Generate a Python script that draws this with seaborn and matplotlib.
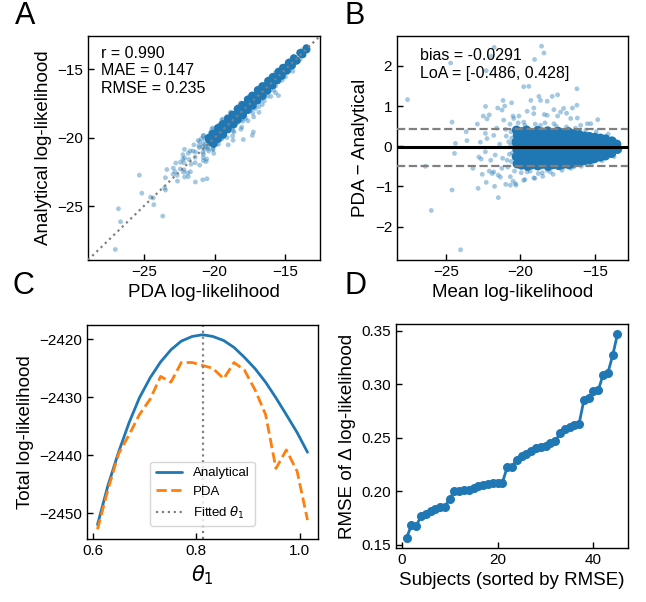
import matplotlib
matplotlib.use("Agg")
import matplotlib.pyplot as plt
import seaborn as sns
import numpy as np

# ---------------- data ----------------
# Bland-Altman coordinates (mean log-likelihood, PDA - Analytical); sparse points
sparse_mean = [-27.60, -26.40, -26.00, -24.60, -24.60, -24.03, -24.44, -24.37, -24.70, -23.65,
               -23.60, -22.85, -22.80, -22.64, -22.57, -22.50, -22.30, -22.30, -22.35, -22.36,
               -22.25, -22.10, -22.10, -21.96, -21.80, -21.77, -21.74, -21.53, -21.50, -21.49,
               -21.35, -21.17, -21.06, -20.99, -20.68, -20.60, -20.50, -20.50, -20.30, -20.10,
               -19.78, -19.70, -19.55, -19.44, -19.30, -19.10, -19.05, -19.03, -18.76, -18.65,
               -18.58, -18.50, -18.42, -18.40, -18.20, -17.86, -17.80, -17.75, -17.50, -17.50,
               -17.10, -16.90, -16.50, -16.20, -16.20, -16.17, -15.50, -14.80,
               -21.24, -21.13, -20.45, -21.80, -22.25, -22.00, -22.36, -21.70, -21.25, -21.90,
               -20.68, -19.78, -19.10, -18.53, -20.34, -19.55, -18.20, -17.30, -16.40, -15.49,
               -14.82, -15.95, -15.27, -16.62, -17.30, -18.20, -19.10, -19.78, -18.65, -17.75,
               -20.22, -20.79, -20.90, -20.00, -23.20, -22.90,
               -20.62, -20.55, -20.66, -20.58, -20.63,
               -21.00, -20.85, -20.70, -20.40, -20.15, -19.95, -19.70, -19.35, -19.00, -18.80,
               -18.35, -18.00, -17.60, -17.20, -16.90, -16.60, -16.30, -15.90, -15.60, -15.20,
               -14.90, -14.50, -14.10, -13.70, -21.40, -21.20, -21.60, -20.95, -20.75, -22.70]
sparse_diff = [1.16, -0.50, -1.60, 0.60, -1.09, -2.58, -0.18, 0.07, 2.07, 0.36,
               0.14, -1.05, -0.27, -0.32, -0.70, 0.75, 1.88, -0.90, 0.99, 0.32,
               0.68, 0.78, -0.62, 2.24, -0.64, 2.46, -1.00, 0.95, -0.72, -1.28,
               -0.77, 1.14, 1.00, -0.95, -0.97, 1.08, -0.87, 0.75, -0.97, 0.75,
               1.48, -0.83, 0.87, 1.49, 1.14, 0.95, 2.16, -0.80, 1.24, 1.14,
               2.49, -0.75, 2.32, 0.79, 1.12, 1.24, -0.70, 0.91, 1.28, 0.75,
               0.94, 0.82, 0.95, 1.43, 1.02, 0.70, 0.56, 0.66,
               0.90, 0.65, 0.69, 0.27, 0.19, -0.35, -0.14, -0.22, -0.55, -0.68,
               -0.76, -0.85, -0.79, -0.66, -0.93, -0.64, -0.60, -0.55, -0.51, -0.46,
               -0.31, 0.52, 0.56, 0.69, 0.85, 0.77, 0.81, 0.60, 0.52, 0.56,
               0.44, 0.11, -0.35, -0.47, -0.55, 0.55,
               -0.38, -0.17, 0.02, 0.20, 0.36,
               0.42, -0.52, 0.55, -0.62, 0.58, -0.66, 0.52, -0.62, 0.55, -0.68,
               0.58, -0.64, 0.50, -0.60, 0.48, -0.55, 0.45, -0.50, 0.40, -0.42,
               0.36, -0.36, 0.30, -0.26, 0.05, -0.30, 0.45, 0.25, -0.20, 0.10]

# dense core of the cloud
core_mean = [-20.22, -20.28, -20.24, -20.30, -20.21, -20.27,
             -19.93, -19.87, -19.91, -19.85, -19.94, -19.88, -19.92,
             -19.52, -19.58, -19.54, -19.57, -19.51, -19.56, -19.53, -19.59,
             -19.22, -19.17, -19.24, -19.19, -19.21, -19.16, -19.23,
             -18.83, -18.88, -18.84, -18.87, -18.82, -18.86, -18.89, -18.84,
             -18.52, -18.47, -18.51, -18.48, -18.53, -18.49, -18.52,
             -18.13, -18.17, -18.14, -18.18, -18.12, -18.16, -18.13, -18.17,
             -17.82, -17.78, -17.81, -17.77, -17.83, -17.79, -17.82,
             -17.43, -17.47, -17.44, -17.48, -17.42, -17.46, -17.44, -17.47,
             -17.12, -17.08, -17.11, -17.07, -17.13, -17.09, -17.12,
             -16.73, -16.77, -16.74, -16.78, -16.72, -16.76, -16.74, -16.77,
             -16.42, -16.38, -16.41, -16.37, -16.43, -16.39, -16.42,
             -16.03, -16.07, -16.04, -16.08, -16.02, -16.06, -16.04,
             -15.72, -15.68, -15.71, -15.67, -15.73, -15.69,
             -15.33, -15.37, -15.34, -15.38, -15.32, -15.36,
             -15.02, -14.98, -15.01, -14.97, -15.03, -14.99,
             -14.63, -14.67, -14.64, -14.68, -14.62,
             -14.28, -14.32, -14.29, -14.33, -14.27,
             -13.87, -13.83, -13.86, -13.84,
             -13.47, -13.52]
core_diff = [-0.44, -0.26, -0.08, 0.10, 0.27, 0.40,
             -0.47, -0.33, -0.19, -0.05, 0.09, 0.23, 0.36,
             -0.50, -0.37, -0.24, -0.11, 0.03, 0.16, 0.29, 0.40,
             -0.46, -0.32, -0.18, -0.05, 0.08, 0.21, 0.34,
             -0.49, -0.36, -0.23, -0.10, 0.03, 0.16, 0.28, 0.39,
             -0.45, -0.31, -0.17, -0.04, 0.09, 0.22, 0.35,
             -0.50, -0.37, -0.24, -0.11, 0.02, 0.15, 0.27, 0.38,
             -0.46, -0.32, -0.18, -0.05, 0.08, 0.21, 0.33,
             -0.48, -0.35, -0.22, -0.09, 0.04, 0.16, 0.27, 0.37,
             -0.45, -0.31, -0.17, -0.04, 0.09, 0.21, 0.33,
             -0.46, -0.33, -0.21, -0.09, 0.03, 0.15, 0.26, 0.36,
             -0.42, -0.29, -0.16, -0.04, 0.08, 0.20, 0.31,
             -0.40, -0.28, -0.16, -0.05, 0.07, 0.18, 0.29,
             -0.36, -0.23, -0.11, 0.01, 0.13, 0.25,
             -0.34, -0.22, -0.10, 0.02, 0.13, 0.24,
             -0.31, -0.20, -0.09, 0.02, 0.12, 0.22,
             -0.27, -0.14, -0.02, 0.10, 0.20,
             -0.24, -0.12, -0.01, 0.09, 0.18,
             -0.18, -0.07, 0.04, 0.13,
             -0.08, 0.05]

stats_A = "r = 0.990\nMAE = 0.147\nRMSE = 0.235"
bias = -0.0291
loa_low, loa_high = -0.486, 0.428
stats_B = "bias = -0.0291\nLoA = [-0.486, 0.428]"

# panel C
theta = [0.609, 0.629, 0.650, 0.670, 0.690, 0.711, 0.731, 0.751, 0.771, 0.792, 0.812,
         0.832, 0.853, 0.873, 0.893, 0.914, 0.934, 0.954, 0.974, 0.995, 1.015]
ll_analytical = [-2452.0, -2445.3, -2439.4, -2434.4, -2430.1, -2426.6, -2423.9, -2421.8,
                 -2420.3, -2419.5, -2419.2, -2419.5, -2420.2, -2421.4, -2423.1, -2425.1,
                 -2427.4, -2430.1, -2433.0, -2436.1, -2439.5]
ll_pda = [-2452.8, -2446.0, -2439.7, -2436.5, -2433.0, -2430.3, -2426.4, -2427.4,
          -2424.0, -2424.0, -2424.5, -2425.0, -2426.8, -2424.0, -2425.3, -2428.8,
          -2433.0, -2442.3, -2439.1, -2442.8, -2451.2]
theta_fit = 0.812

# panel D
subjects = list(range(1, 46))
rmse = [0.1565, 0.1680, 0.1674, 0.1767, 0.1789, 0.1814, 0.1836, 0.1851, 0.1855, 0.1932,
        0.2001, 0.2003, 0.2007, 0.2016, 0.2032, 0.2047, 0.2057, 0.2072, 0.2079, 0.2080,
        0.2081, 0.2225, 0.2228, 0.2296, 0.2327, 0.2343, 0.2380, 0.2405, 0.2411, 0.2421,
        0.2446, 0.2467, 0.2539, 0.2582, 0.2601, 0.2617, 0.2632, 0.2850, 0.2872, 0.2940,
        0.2941, 0.3089, 0.3105, 0.3267, 0.3466]

# derived coordinates for panel A
sp_m, sp_d = np.array(sparse_mean), np.array(sparse_diff)
co_m, co_d = np.array(core_mean), np.array(core_diff)
sp_pda, sp_ana = sp_m + sp_d / 2, sp_m - sp_d / 2
co_pda, co_ana = co_m + co_d / 2, co_m - co_d / 2

# ---------------- style ----------------
sns.set_theme(style="ticks")
plt.rcParams.update({
    "font.family": ["Liberation Sans", "DejaVu Sans"],
    "xtick.direction": "in", "ytick.direction": "in",
    "xtick.major.size": 4.5, "ytick.major.size": 4.5,
    "xtick.major.width": 1.0, "ytick.major.width": 1.0,
    "axes.linewidth": 1.0, "axes.edgecolor": "black",
    "xtick.color": "black", "ytick.color": "black",
    "axes.labelcolor": "black", "text.color": "black",
    "xtick.labelsize": 11, "ytick.labelsize": 11, "axes.labelsize": 13.5,
})

C0, C1 = "#1f77b4", "#ff7f0e"
W, H = 646, 602
fig = plt.figure(figsize=(W / 100, H / 100), dpi=100)

def box(l, r, t, b):
    return [l / W, 1 - b / H, (r - l) / W, (b - t) / H]

axA = fig.add_axes(box(88, 320, 36, 260))
axB = fig.add_axes(box(397, 628, 36, 260))
axC = fig.add_axes(box(87, 318, 325, 539))
axD = fig.add_axes(box(396, 628, 324, 548))

# ---- A ----
sns.scatterplot(x=co_pda, y=co_ana, ax=axA, s=30, alpha=1.0, color=C0, linewidth=0,
                edgecolor="none")
sns.scatterplot(x=sp_pda, y=sp_ana, ax=axA, s=12, alpha=0.4, color=C0, linewidth=0,
                edgecolor="none")
lim = (-28.95, -12.55)
axA.plot(lim, lim, ls=":", color="gray", lw=1.6, zorder=5)
axA.set_xlim(lim); axA.set_ylim(lim)
axA.set_xticks([-25, -20, -15]); axA.set_yticks([-25, -20, -15])
axA.set_xlabel("PDA log-likelihood")
axA.set_ylabel("Analytical log-likelihood")
axA.text(0.055, 0.955, stats_A, transform=axA.transAxes, va="top", ha="left", fontsize=11.5)

# ---- B ----
sns.scatterplot(x=co_m, y=co_d, ax=axB, s=44, alpha=1.0, color=C0, linewidth=0,
                edgecolor="none")
sns.scatterplot(x=sp_m, y=sp_d, ax=axB, s=12, alpha=0.4, color=C0, linewidth=0,
                edgecolor="none")
axB.axhline(bias, color="black", lw=2.2, zorder=5)
axB.axhline(loa_low, color="gray", ls="--", lw=1.6, zorder=5)
axB.axhline(loa_high, color="gray", ls="--", lw=1.6, zorder=5)
axB.set_xticks([-25, -20, -15]); axB.set_yticks([-2, -1, 0, 1, 2])
axB.set_xlabel("Mean log-likelihood")
axB.set_ylabel("PDA \u2212 Analytical")
axB.text(0.1, 0.945, stats_B, transform=axB.transAxes, va="top", ha="left", fontsize=11.5)

# ---- C ----
sns.lineplot(x=theta, y=ll_analytical, ax=axC, color=C0, lw=2, label="Analytical")
sns.lineplot(x=theta, y=ll_pda, ax=axC, color=C1, lw=2, ls="--", label="PDA")
axC.axvline(theta_fit, color="gray", ls=":", lw=1.6, label=r"Fitted $\theta_1$")
axC.set_xticks([0.6, 0.8, 1.0]); axC.set_yticks([-2450, -2440, -2430, -2420])
axC.set_xlabel(r"$\theta_1$", fontsize=15)
axC.set_ylabel("Total log-likelihood")
axC.legend(loc="lower center", bbox_to_anchor=(0.5, 0.03), fontsize=9.5)

# ---- D ----
sns.lineplot(x=subjects, y=rmse, ax=axD, color=C0, lw=2, marker="o", markersize=6.5,
             markeredgewidth=0)
axD.set_xticks([0, 20, 40]); axD.set_yticks([0.15, 0.20, 0.25, 0.30, 0.35])
axD.set_xlabel("Subjects (sorted by RMSE)")
axD.set_ylabel("RMSE of \u0394 log-likelihood")

for ax in (axA, axB, axC, axD):
    for s in ax.spines.values():
        s.set_visible(True)
        s.set_color("black")
    ax.tick_params(top=False, right=False)

for letter, x, y in (("A", 15, 1), ("B", 345, 1), ("C", 13, 271), ("D", 345, 271)):
    fig.text(x / W, 1 - y / H, letter, fontsize=22, va="top", ha="left")

fig.savefig("out.png", dpi=100)
